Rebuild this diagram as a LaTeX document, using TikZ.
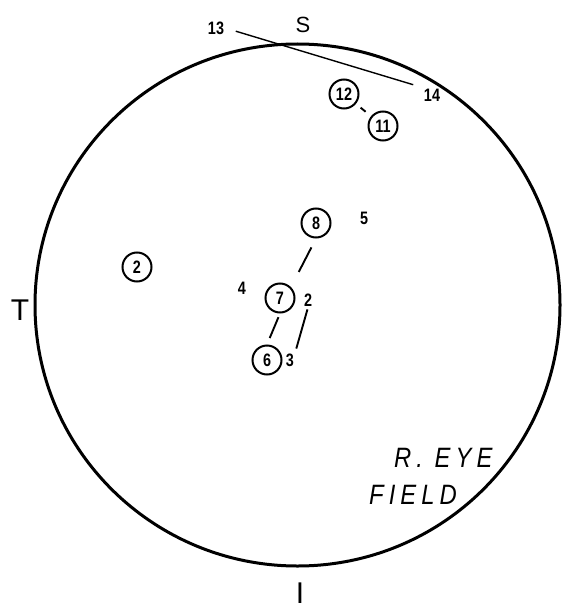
\documentclass[tikz,border=0pt]{standalone}
\usepackage{fontspec}
\setmainfont{Liberation Sans}
\newfontfamily\numfont[FakeStretch=0.8]{Liberation Sans}
\newfontfamily\eyefont[FakeStretch=0.85,LetterSpace=18]{Liberation Sans}
\usetikzlibrary{calc}

\begin{document}
\begin{tikzpicture}[x=1pt,y=-1pt,
    spot/.style={circle,draw,line width=2pt,minimum size=29pt,inner sep=0pt,
        font=\numfont\bfseries\fontsize{18}{18}\selectfont},
    num/.style={inner sep=1pt,font=\numfont\bfseries\fontsize{18}{18}\selectfont},
    seg/.style={line width=1.9pt}]
    \useasboundingbox (0,0) rectangle (562,610);

    % Field boundary
    \draw[line width=3pt] (297.5,305) ellipse [x radius=262.5pt, y radius=261pt];

    % Meridian letters
    \node (sup) at (303,25) {\fontsize{22}{22}\selectfont S};
    \node (tmp) at (20,310) {\fontsize{30}{30}\selectfont T};
    \node (inf) at (300,593) {\fontsize{30}{30}\selectfont I};

    % Circled points
    \node[spot] (n12) at (344,94) {12};
    \node[spot] (n11) at (383,126) {11};
    \node[spot] (n2) at (137,267) {2};
    \node[spot] (n8) at (316,223) {8};
    \node[spot] (n7) at (280,298) {7};
    \node[spot] (n6) at (267,360) {6};

    % Plain points
    \node[num] (l13) at (216,28) {13};
    \node[num] (l14) at (432,95) {14};
    \node[num] (l5) at (364,218) {5};
    \node[num] (l4) at (242,288) {4};
    \node[num] (t2) at (308,300) {2};
    \node[num] (t3) at (290,360) {3};

    % Links
    \draw[line width=1.4pt,shorten <=11pt,shorten >=10pt] (l13.east) -- (l14.north west);
    \draw[seg,shorten <=6pt,shorten >=7pt] (n12) -- (n11);
    \draw[seg,shorten <=10pt,shorten >=17pt] (n8.south) -- (n7.north east);
    \draw[seg,shorten <=4pt,shorten >=7pt] (n7.south) -- (n6.north);
    \draw[seg,shorten <=2pt,shorten >=4pt] (t2.south) -- (t3.north east);

    % Caption
    \node[anchor=west,inner sep=0pt] (eye) at (394,458)
        {\eyefont\itshape\fontsize{28}{28}\selectfont R. EYE};
    \node[anchor=west,inner sep=0pt] (fld) at (369,495)
        {\eyefont\itshape\fontsize{28}{28}\selectfont FIELD};
\end{tikzpicture}
\end{document}
